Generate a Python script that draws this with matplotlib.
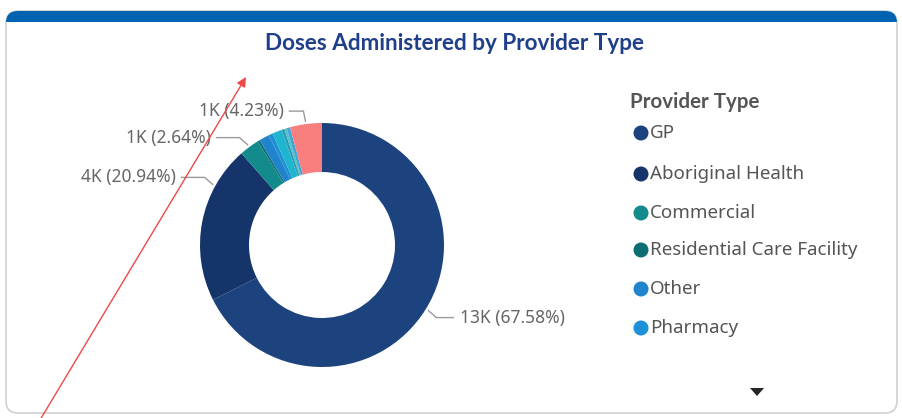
import matplotlib
matplotlib.use("Agg")
import matplotlib.pyplot as plt
from matplotlib.patches import FancyBboxPatch, Rectangle, Circle, Polygon
import numpy as np

W, H = 903, 418
plt.rcParams['font.family'] = ['Noto Sans', 'DejaVu Sans']

# ---- data ----
categories = ["GP", "Aboriginal Health", "Commercial", "Residential Care Facility",
              "Other", "Pharmacy", "Hospital", "Community Health", "Outreach",
              "Respiratory Clinic", "State Vaccination Clinic"]
shares = [67.58, 20.94, 2.64, 0.30, 1.35, 0.55, 1.25, 0.40, 0.30, 0.46, 4.23]
count_labels = ["13K", "4K", "1K", None, None, None, None, None, None, None, "1K"]
colors = ["#1D437F", "#15356A", "#138A8C", "#0E6D72", "#1F84CC", "#1E90D6",
          "#20B5CF", "#2A9DB8", "#55C2C2", "#3FA7D8", "#F77F7E"]
legend_visible = 6
title = "Doses Administered by Provider Type"
legend_title = "Provider Type"

fig = plt.figure(figsize=(W / 100, H / 100), dpi=100)
ax = fig.add_axes([0, 0, 1, 1])
ax.set_xlim(0, W)
ax.set_ylim(0, H)
ax.axis("off")

def Y(y):
    return H - y

# card
card = FancyBboxPatch((6, Y(413)), 891, 402, boxstyle="round,pad=0,rounding_size=12",
                      facecolor="white", edgecolor="#d0d0d0", linewidth=1.2, zorder=1)
ax.add_patch(card)
band = Rectangle((0, Y(22)), W, 14, facecolor="#0063B1", edgecolor="none", zorder=2)
ax.add_patch(band)
band.set_clip_path(card)

ax.text(455, Y(43), title, ha="center", va="center", fontsize=16.2,
        color="#1F3F8A", fontweight="bold", family=["Lato", "DejaVu Sans"], zorder=5)

# donut
cx, cy, R, r_in = 322, 245, 122, 73
wedges, _ = ax.pie(shares, colors=colors, startangle=90, counterclock=False,
                   center=(cx, Y(cy)), radius=R, frame=True,
                   wedgeprops=dict(width=R - r_in, edgecolor="none", linewidth=0))
for w in wedges:
    w.set_zorder(4)
ax.set_xlim(0, W)
ax.set_ylim(0, H)
ax.axis("off")

# labels with leader lines
cum = np.cumsum([0] + shares)
angle_override = {1: 299.0}
for i, lab in enumerate(count_labels):
    if lab is None:
        continue
    mid = (cum[i] + cum[i + 1]) / 2 / 100 * 360
    mid = angle_override.get(i, mid)
    th = np.deg2rad(90 - mid)
    p0 = np.array([cx + (R + 3) * np.cos(th), Y(cy) + (R + 3) * np.sin(th)])
    right = np.cos(th) > 0
    if i == len(shares) - 1:
        p1 = p0 + np.array([-2, 10])
    else:
        p1 = p0 + np.array([8 if right else -8, 7 * np.sign(np.sin(th))])
    hl = 17 if right else (-14 if i == len(shares) - 1 else -23)
    p2 = p1 + np.array([hl, 0])
    ax.plot([p0[0], p1[0], p2[0]], [p0[1], p1[1], p2[1]], color="#9a9a9a", lw=1.0,
            zorder=5, solid_joinstyle="miter")
    txt = f"{lab} ({shares[i]:.2f}%)"
    ax.text(p2[0] + (7 if right else -6), p2[1], txt, ha="left" if right else "right",
            va="center", fontsize=12.5, color="#666666", zorder=5)

# legend
ax.text(630, Y(102), legend_title, ha="left", va="center", fontsize=14.8,
        fontweight="bold", color="#555555", family=["Lato", "DejaVu Sans"], zorder=5)
leg_y = [133, 174, 213, 250, 289, 328]
for k in range(legend_visible):
    yy = leg_y[k]
    ax.add_patch(Circle((641, Y(yy)), 7.5, facecolor=colors[k], edgecolor="none", zorder=5))
    ax.text(650, Y(yy), categories[k], ha="left", va="center", fontsize=13.5,
            color="#555555", zorder=5)

# scroll arrow
ax.add_patch(Polygon([[750, Y(388)], [764, Y(388)], [757, Y(396)]], closed=True,
                     facecolor="#252525", edgecolor="none", zorder=5))

# red annotation arrow
ax.annotate("", xy=(246, Y(77)), xytext=(40, Y(420)),
            arrowprops=dict(arrowstyle="-|>", color="#F04848", lw=1.0,
                            mutation_scale=14, shrinkA=0, shrinkB=0), zorder=6)

fig.savefig("out.png", dpi=100)
